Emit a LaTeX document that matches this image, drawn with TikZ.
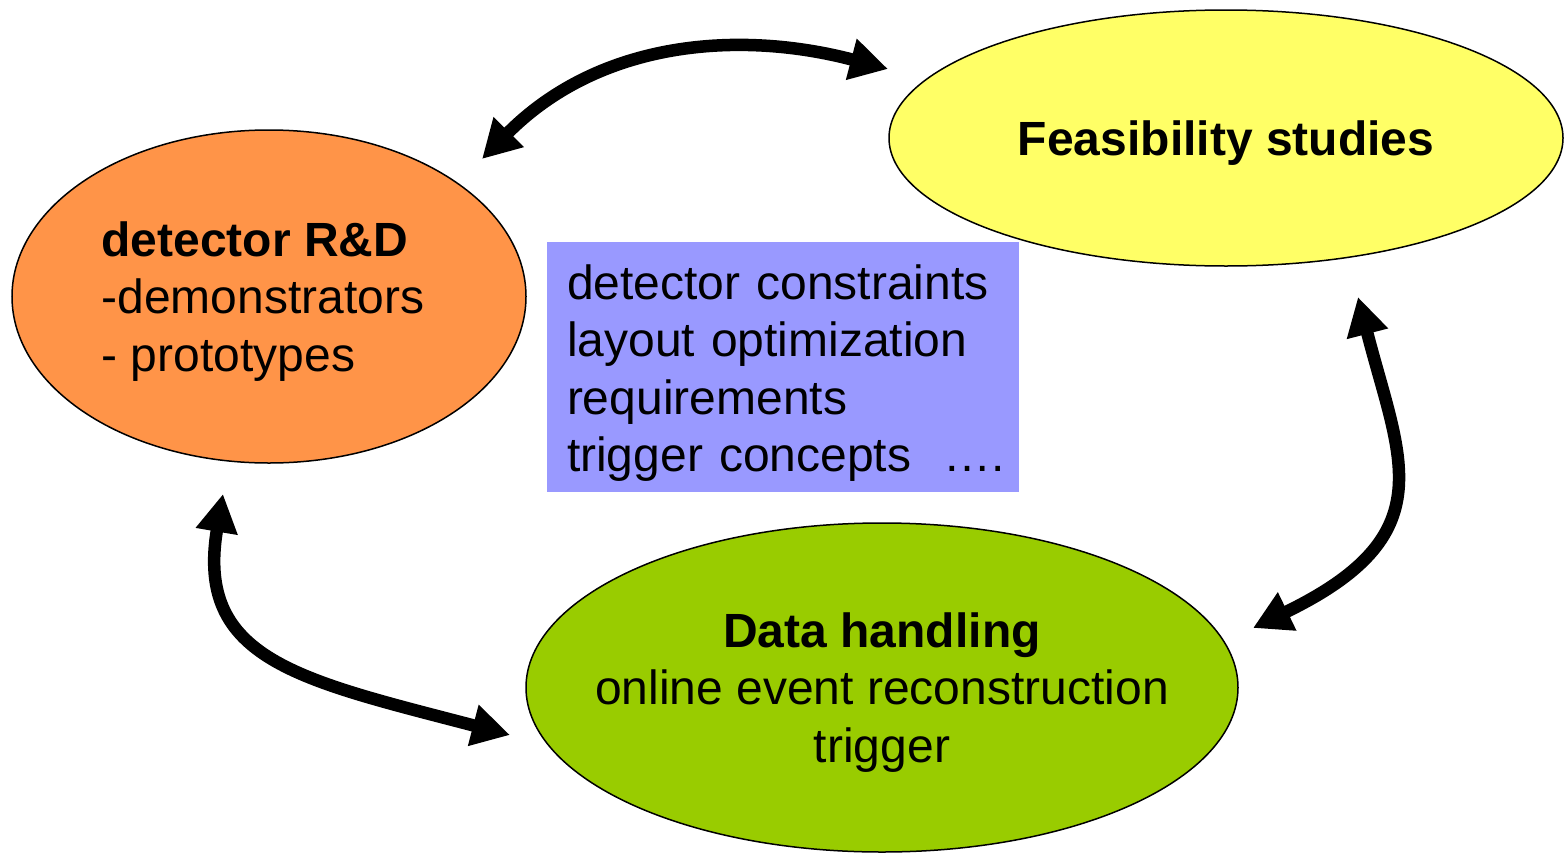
\documentclass[tikz,border=0pt]{standalone}
\usepackage{fontspec}
\setmainfont{Liberation Sans}
\usetikzlibrary{arrows.meta,shapes.geometric}
\definecolor{rdorange}{HTML}{FF9448}
\definecolor{fsyellow}{HTML}{FFFF66}
\definecolor{dhgreen}{HTML}{99CC00}
\definecolor{boxblue}{HTML}{9999FF}
\newcommand{\indentln}{\hspace*{8pt}}
\tikzset{
  blob/.style={ellipse, draw=black, line width=1.5pt, inner sep=0pt, text depth=0pt,
    font=\fontsize{48}{57.5}\selectfont},
  infobox/.style={rectangle, fill=boxblue, inner sep=0pt, minimum width=472pt, minimum height=250pt,
    text width=448pt, align=left, font=\fontsize{48}{57.3}\selectfont},
  conn/.style={line width=12.5pt, {Triangle[length=38pt,width=40pt]}-{Triangle[length=38pt,width=40pt]}}
}
\begin{document}
\begin{tikzpicture}[x=1pt,y=-1pt]
\useasboundingbox (0,0) rectangle (1564,854);
\node[blob, fill=rdorange, minimum width=514pt, minimum height=333pt, align=left] (rd) at (269,296.5)
  {\textbf{detector R\&D}\\-demonstrators\rule{12pt}{0pt}\\- prototypes};
\node[blob, fill=fsyellow, minimum width=674pt, minimum height=256pt] (fs) at (1226,138)
  {\textbf{Feasibility studies}};
\node[blob, fill=dhgreen, minimum width=712pt, minimum height=329pt, align=center, inner xsep=-80pt] (dh) at (882,687.5)
  {\textbf{Data handling}\\online event reconstruction\\trigger};
\node[infobox] (box) at (783,367)
  {\indentln\rule{0pt}{47pt}detector constraints\\\indentln layout optimization\\\indentln requirements\\\indentln trigger concepts\ \ ….};
\coordinate (rdNE) at (482,159);
\coordinate (fsW) at (888,69);
\coordinate (fsS) at (1358,297);
\coordinate (dhNE) at (1253,628);
\coordinate (rdS) at (223,494);
\coordinate (dhW) at (510,735);
\draw[conn] (rdNE) .. controls (600,40) and (740,30) .. (fsW);
\draw[conn] (fsS) .. controls (1400,460) and (1445,535) .. (dhNE);
\draw[conn] (rdS) .. controls (195,660) and (300,680) .. (dhW);
\end{tikzpicture}
\end{document}
